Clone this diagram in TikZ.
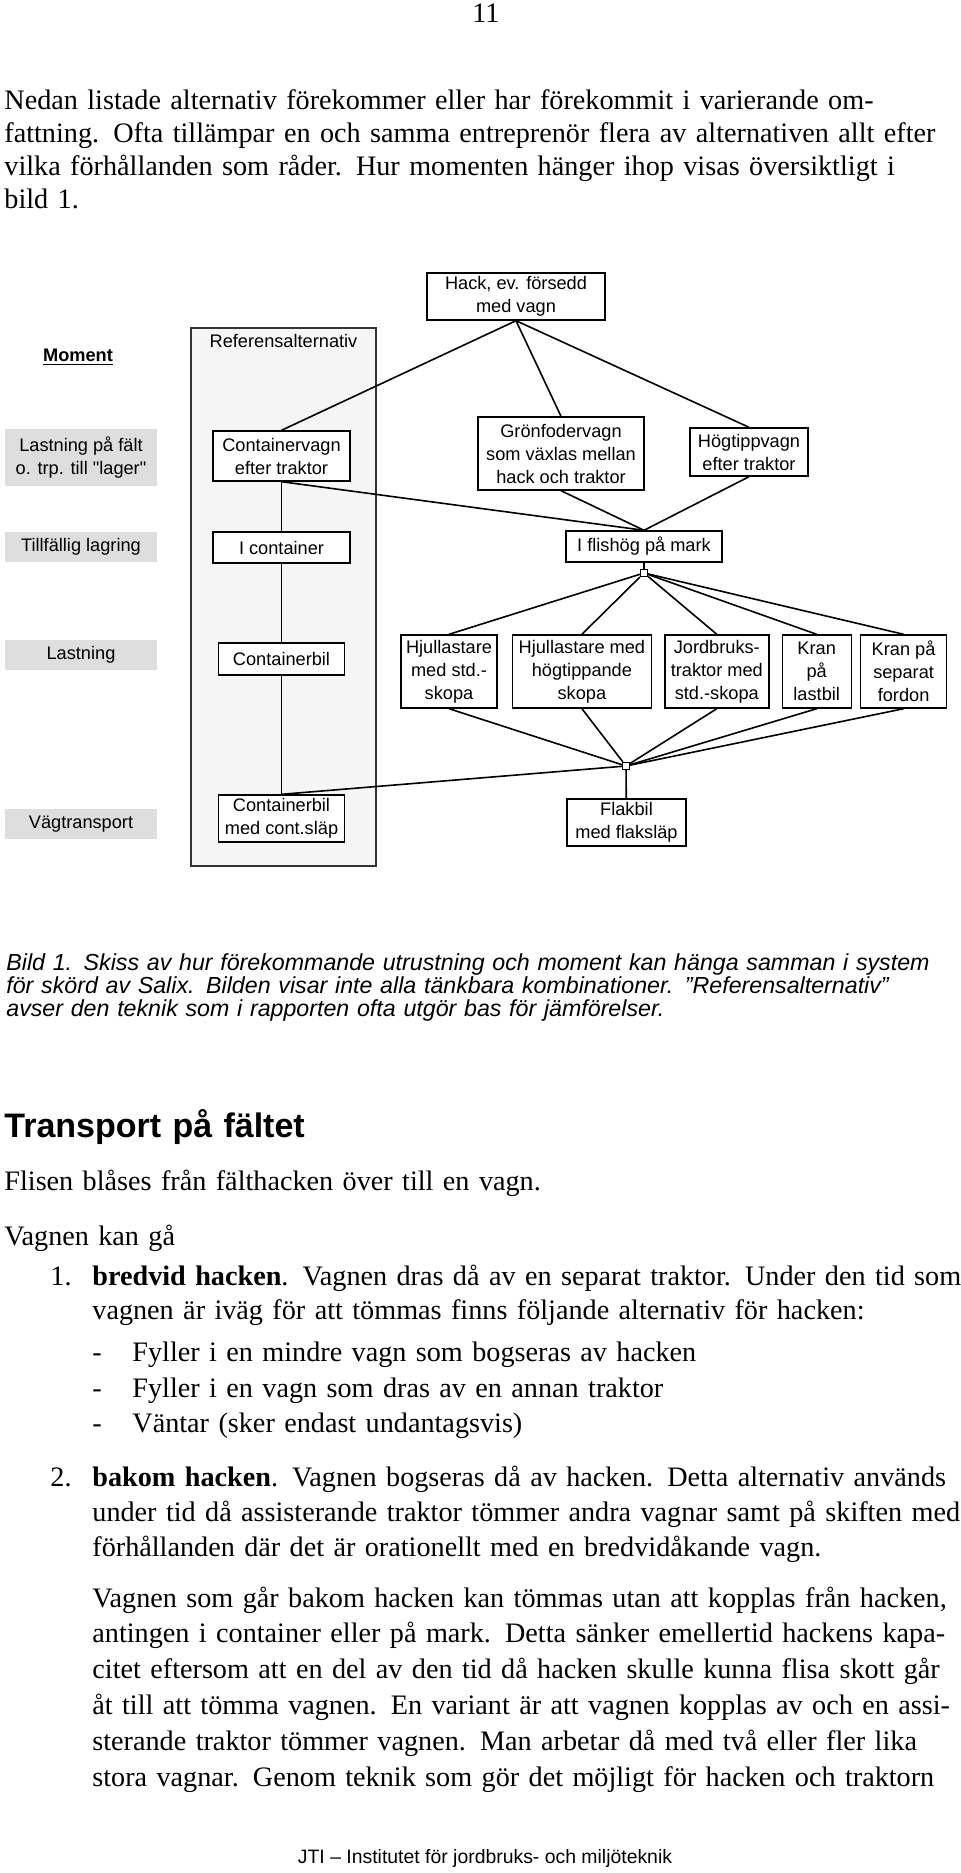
\documentclass[tikz,border=0pt]{standalone}
\usepackage{fontspec}
\setmainfont{Liberation Serif}
\setsansfont{Liberation Sans}
\usepackage{tikz}
\definecolor{lbl}{gray}{0.87}
\definecolor{refbg}{gray}{0.96}
\newcommand\brod{\fontsize{14.1}{16.6}\selectfont}
\newcommand\diag{\sffamily\fontsize{9.1}{11.5}\selectfont}
\tikzstyle{box}=[draw, line width=0.7pt, fill=white, align=center, inner sep=1pt, font=\diag]
\tikzstyle{stage}=[fill=lbl, align=center, inner sep=1pt, minimum width=76pt, font=\diag]
\tikzstyle{knot}=[draw, line width=0.6pt, fill=white, minimum size=3.5pt, inner sep=0pt]
\tikzstyle{line}=[line width=0.8pt]
\tikzstyle{txt}=[anchor=base west, inner sep=0pt, text width=500pt, align=left, font=\brod]
\usetikzlibrary{positioning}

\begin{document}
\begin{tikzpicture}[x=0.5pt,y=-0.5pt]
\useasboundingbox (0,0) rectangle (960,1873);
\node (pnr) [anchor=base, font=\brod] at (486,23) {11};
\node (intro) [txt, font=\fontsize{14.1}{16.5}\selectfont] at (4,110) {Nedan listade alternativ förekommer eller har förekommit i varierande om-\\fattning. Ofta tillämpar en och samma entreprenör flera av alternativen allt efter\\vilka förhållanden som råder. Hur momenten hänger ihop visas översiktligt i\\bild 1.};

% bild 1
\node (ref) [draw=black!80, fill=refbg, line width=0.7pt, minimum width=92.5pt, minimum height=269pt] at (283.5,597) {};
\node (reflbl) [below=0pt of ref.north, font=\diag] {Referensalternativ};
\node (moment) [font=\diag\bfseries] at (78,357) {\underline{Moment}};

\node (lastfalt) [stage, minimum height=28.5pt] at (81,457.5) {Lastning på fält\\o. trp. till \textquotedbl lager\textquotedbl};
\node (tillf) [stage, minimum height=15pt] at (81,547) {Tillfällig lagring};
\node (lastn) [stage, minimum height=15pt] at (81,655) {Lastning};
\node (vagtr) [stage, minimum height=15pt] at (81,824) {Vägtransport};

\node (hack) [box, minimum width=89pt, minimum height=23.5pt] at (516,296.5) {Hack, ev. försedd\\med vagn};
\node (contvagn) [box, minimum width=68.5pt, minimum height=25pt] at (281.5,456) {Containervagn\\efter traktor};
\node (gronf) [box, minimum width=83pt, minimum height=36.5pt] at (561,453.5) {Grönfodervagn\\som växlas mellan\\hack och traktor};
\node (hogtipp) [box, minimum width=59pt, minimum height=24pt] at (749,452) {Högtippvagn\\efter traktor};
\node (icont) [box, minimum width=68.5pt, minimum height=15.5pt] at (281.5,547.5) {I container};
\node (flishog) [box, minimum width=78pt, minimum height=15.5pt] at (644,546.5) {I flishög på mark};
\node (knot1) [knot] at (644,573) {};
\node (contbil) [box, minimum width=63pt, minimum height=16pt] at (281.5,659) {Containerbil};
\node (hjul1) [box, minimum width=48pt, minimum height=36.5pt] at (449,671.5) {Hjullastare\\med std.-\\skopa};
\node (hjul2) [box, minimum width=69.5pt, minimum height=36.5pt, right=7pt of hjul1] {Hjullastare med\\högtippande\\skopa};
\node (jord) [box, minimum width=52pt, minimum height=36.5pt, right=6pt of hjul2] {Jordbruks-\\traktor med\\std.-skopa};
\node (kran1) [box, minimum width=34.5pt, minimum height=36.5pt, right=6pt of jord] {Kran\\på\\lastbil};
\node (kran2) [box, minimum width=43pt, minimum height=36.5pt, right=4pt of kran1] {Kran på\\separat\\fordon};
\node (knot2) [knot] at (626,766) {};
\node (contslap) [box, minimum width=63pt, minimum height=23.5pt] at (281.5,818.5) {Containerbil\\med cont.släp};
\node (flakbil) [box, minimum width=59.5pt, minimum height=23.5pt] at (626.5,822.5) {Flakbil\\med flaksläp};

\draw[line] (hack.south) -- (contvagn.north);
\draw[line] (hack.south) -- (gronf.north);
\draw[line] (hack.south) -- (hogtipp.north);
\draw[line] (contvagn.south) -- (flishog.north);
\draw[line] (gronf.south) -- (flishog.north);
\draw[line] (hogtipp.south) -- (flishog.north);
\draw[line] (contvagn) -- (icont);
\draw[line] (icont) -- (contbil);
\draw[line] (contbil) -- (contslap);
\draw[line] (flishog) -- (knot1);
\foreach \n in {hjul1,hjul2,jord,kran1,kran2}{
  \draw[line] (knot1) -- (\n.north);
  \draw[line] (\n.south) -- (knot2);
}
\draw[line] (knot2) -- (contslap.north);
\draw[line] (knot2) -- (flakbil);

\node (capt) [txt, font=\sffamily\itshape\fontsize{11.6}{11.6}\selectfont] at (6,970) {Bild 1. Skiss av hur förekommande utrustning och moment kan hänga samman i system\\för skörd av Salix. Bilden visar inte alla tänkbara kombinationer. ”Referensalternativ”\\avser den teknik som i rapporten ofta utgör bas för jämförelser.};

% text
\node (rubrik) [txt, font=\sffamily\bfseries\fontsize{17}{20}\selectfont] at (4,1137) {Transport på fältet};
\node (flisen) [txt] at (4,1190) {Flisen blåses från fälthacken över till en vagn.};
\node (kan) [txt] at (4,1245) {Vagnen kan gå};
\node (nr1) [txt] at (50,1285) {1.};
\node (alt1) [txt, font=\fontsize{14.1}{17}\selectfont] at (92,1285) {\textbf{bredvid hacken}. Vagnen dras då av en separat traktor. Under den tid som\\vagnen är iväg för att tömmas finns följande alternativ för hacken:};
\foreach \y/\t [count=\i] in {1361/{Fyller i en mindre vagn som bogseras av hacken},1397/{Fyller i en vagn som dras av en annan traktor},1432/{Väntar (sker endast undantagsvis)}}{
  \node (dash\i) [txt] at (92,\y) {-};
  \node (sub\i) [txt] at (132,\y) {\t};
}
\node (nr2) [txt] at (50,1486) {2.};
\node (alt2) [txt, font=\fontsize{14.1}{17.5}\selectfont] at (92,1486) {\textbf{bakom hacken}. Vagnen bogseras då av hacken. Detta alternativ används\\under tid då assisterande traktor tömmer andra vagnar samt på skiften med\\förhållanden där det är orationellt med en bredvidåkande vagn.};
\node (bakom) [txt, font=\fontsize{14.1}{17.9}\selectfont] at (92,1607) {Vagnen som går bakom hacken kan tömmas utan att kopplas från hacken,\\antingen i container eller på mark. Detta sänker emellertid hackens kapa-\\citet eftersom att en del av den tid då hacken skulle kunna flisa skott går\\åt till att tömma vagnen. En variant är att vagnen kopplas av och en assi-\\sterande traktor tömmer vagnen. Man arbetar då med två eller fler lika\\stora vagnar. Genom teknik som gör det möjligt för hacken och traktorn};
\node (fot) [anchor=base, font=\sffamily\fontsize{9.7}{11}\selectfont] at (485,1863) {JTI – Institutet för jordbruks- och miljöteknik};
\end{tikzpicture}
\end{document}
